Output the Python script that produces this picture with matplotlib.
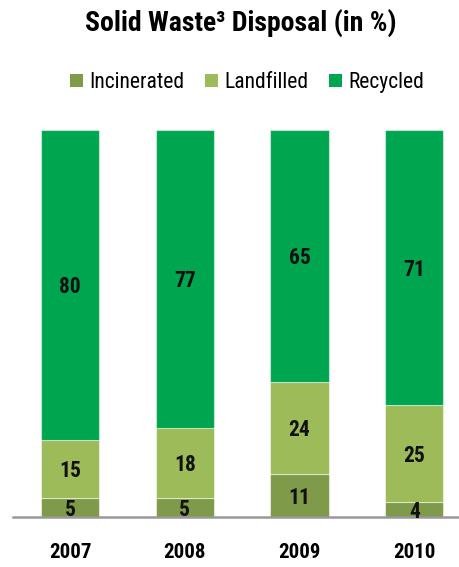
import matplotlib
matplotlib.use("Agg")
import matplotlib.pyplot as plt
from matplotlib.patches import Patch
from matplotlib import font_manager as fm
from matplotlib.transforms import ScaledTranslation

years = ["2007", "2008", "2009", "2010"]
incinerated = [5, 5, 11, 4]
landfilled = [15, 18, 24, 25]
recycled = [80, 77, 65, 71]
series_names = ["Incinerated", "Landfilled", "Recycled"]
colors = ["#7f9a48", "#9dbb59", "#00a64f"]

# pick a condensed font if one is installed
family = 'Liberation Sans'
names = {f.name for f in fm.fontManager.ttflist}
for cand in ['Roboto Condensed', 'Liberation Sans Narrow', 'Open Sans Condensed']:
    if cand in names:
        family = cand
        break

plt.rcParams['font.family'] = [family, 'DejaVu Sans']

fig = plt.figure(figsize=(4.59, 5.67), dpi=100)
ax = fig.add_axes([13/459, 1-517/567, (459-13)/459, 387/567])

x = list(range(len(years)))
w = 0.506
down = ax.transData + ScaledTranslation(0, -2.5/100, fig.dpi_scale_trans)
bottoms = [0]*len(years)
for vals, c, name in zip([incinerated, landfilled, recycled], colors, series_names):
    ax.bar(x, vals, width=w, bottom=bottoms, color=c,
           edgecolor=(1, 1, 1, 0.5), linewidth=0.8, label=name)
    for xi, b, v in zip(x, bottoms, vals):
        ax.text(xi, b + v/2, str(v), ha='center', va='center', transform=down,
                fontsize=15.5, fontweight='bold', color='#111111')
    bottoms = [b + v for b, v in zip(bottoms, vals)]

ax.set_xlim(-0.497, 3.39)
ax.set_ylim(0, 100)
for s in ['top', 'right', 'left']:
    ax.spines[s].set_visible(False)
ax.spines['bottom'].set_color('#999999')
ax.spines['bottom'].set_linewidth(1.8)
ax.set_yticks([])
ax.set_xticks(x)
ax.set_xticklabels(years, fontsize=15, fontweight='bold')
ax.tick_params(axis='x', length=0, pad=18.5)

fig.text(0.524, 1-23/567, "Solid Waste³ Disposal (in %)", ha='center', va='center',
         fontsize=20, fontweight='bold')

handles = [Patch(facecolor=c, edgecolor='none') for c in colors]
fig.legend(handles, series_names, loc='center left', bbox_to_anchor=(70/459, 1-82.5/567),
           ncol=3, frameon=False, fontsize=15.5, handlelength=0.6, handleheight=0.6,
           handletextpad=0.3, columnspacing=0.95, borderpad=0, borderaxespad=0)

fig.savefig("out.png", dpi=100)
